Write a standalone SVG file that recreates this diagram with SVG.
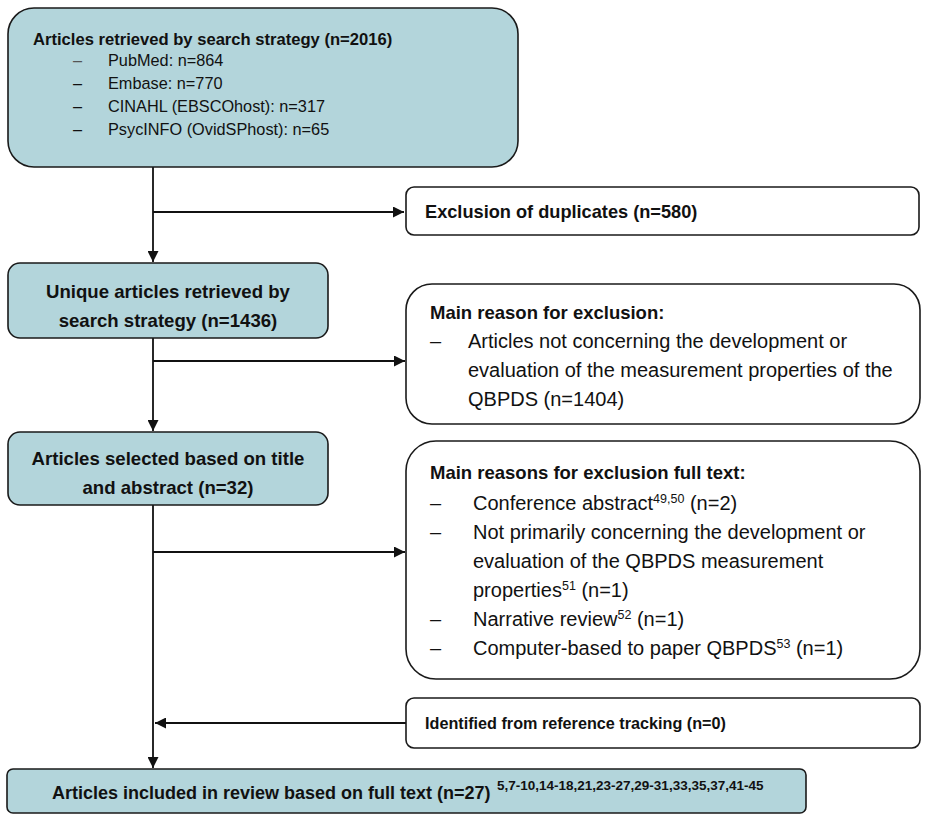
<svg xmlns="http://www.w3.org/2000/svg" width="925" height="816" viewBox="0 0 925 816">
<defs>
<style>
.box{stroke:#1a1a1a;stroke-width:1.6}
.blue{fill:#b3d5db}
.white{fill:#ffffff}
.t{font-family:"Liberation Sans",Arial,sans-serif;fill:#111}
.b{font-weight:bold}
.c{stroke:#111;stroke-width:1.8;fill:none}
</style>
<marker id="ah" viewBox="0 0 10 10" refX="10" refY="5" markerWidth="11" markerHeight="11" markerUnits="userSpaceOnUse" orient="auto">
<path d="M0,0 L10,5 L0,10 z" fill="#111"/>
</marker>
</defs>
<rect width="925" height="816" fill="#ffffff"/>

<g id="connectors">
<line class="c" x1="153" y1="167" x2="153" y2="262" marker-end="url(#ah)"/>
<line class="c" x1="153" y1="212" x2="404" y2="212" marker-end="url(#ah)"/>
<line class="c" x1="153" y1="338" x2="153" y2="431" marker-end="url(#ah)"/>
<line class="c" x1="153" y1="361" x2="405" y2="361" marker-end="url(#ah)"/>
<line class="c" x1="153" y1="505" x2="153" y2="768" marker-end="url(#ah)"/>
<line class="c" x1="153" y1="552" x2="405" y2="552" marker-end="url(#ah)"/>
<line class="c" x1="406" y1="723" x2="155" y2="723" marker-end="url(#ah)"/>
</g>

<g id="search">
<rect class="box blue" x="8" y="8" width="510" height="159" rx="26"/>
<text class="t b" x="33" y="45" font-size="16.6">Articles retrieved by search strategy (n=2016)</text>
<g class="t" font-size="16.3">
<text x="73" y="66" fill="#555">–</text><text x="108" y="66">PubMed: n=864</text>
<text x="73" y="89">–</text><text x="108" y="89">Embase: n=770</text>
<text x="73" y="112">–</text><text x="108" y="112">CINAHL (EBSCOhost): n=317</text>
<text x="73" y="135">–</text><text x="108" y="135">PsycINFO (OvidSPhost): n=65</text>
</g>
</g>

<g id="duplicates">
<rect class="box white" x="406" y="187" width="513" height="48" rx="8"/>
<text class="t b" x="425" y="218" font-size="18.2">Exclusion of duplicates (n=580)</text>
</g>

<g id="unique">
<rect class="box blue" x="8" y="263" width="320" height="75" rx="12"/>
<text class="t b" x="168" y="298" font-size="18.6" text-anchor="middle">Unique articles retrieved by</text>
<text class="t b" x="168" y="327" font-size="18.6" text-anchor="middle">search strategy (n=1436)</text>
</g>

<g id="exclusion1">
<rect class="box white" x="406" y="284" width="514" height="140" rx="26"/>
<text class="t b" x="430" y="319" font-size="18.5">Main reason for exclusion:</text>
<g class="t" font-size="20">
<text x="430" y="348">–</text><text x="468" y="348">Articles not concerning the development or</text>
<text x="468" y="377">evaluation of the measurement properties of the</text>
<text x="468" y="406">QBPDS (n=1404)</text>
</g>
</g>

<g id="selected">
<rect class="box blue" x="8" y="432" width="320" height="73" rx="12"/>
<text class="t b" x="168" y="465" font-size="18.6" text-anchor="middle">Articles selected based on title</text>
<text class="t b" x="168" y="494" font-size="18.6" text-anchor="middle">and abstract (n=32)</text>
</g>

<g id="exclusion2">
<rect class="box white" x="406" y="441" width="514" height="238" rx="30"/>
<text class="t b" x="430" y="479" font-size="18.5">Main reasons for exclusion full text:</text>
<g class="t" font-size="20">
<text x="430" y="510">–</text><text x="473" y="510">Conference abstract<tspan font-size="12.5" dy="-7">49,50</tspan><tspan dy="7"> (n=2)</tspan></text>
<text x="430" y="539">–</text><text x="473" y="539">Not primarily concerning the development or</text>
<text x="473" y="568">evaluation of the QBPDS measurement</text>
<text x="473" y="597">properties<tspan font-size="12.5" dy="-7">51</tspan><tspan dy="7"> (n=1)</tspan></text>
<text x="430" y="626">–</text><text x="473" y="626">Narrative review<tspan font-size="12.5" dy="-7">52</tspan><tspan dy="7"> (n=1)</tspan></text>
<text x="430" y="655">–</text><text x="473" y="655">Computer-based to paper QBPDS<tspan font-size="12.5" dy="-7">53</tspan><tspan dy="7"> (n=1)</tspan></text>
</g>
</g>

<g id="tracking">
<rect class="box white" x="406" y="698" width="514" height="50" rx="8"/>
<text class="t b" x="425" y="729" font-size="16.2">Identified from reference tracking (n=0)</text>
</g>

<g id="included">
<rect class="box blue" x="7" y="769" width="799" height="44" rx="6" stroke-width="3"/>
<text class="t b" x="52" y="799" font-size="18">Articles included in review based on full text (n=27)</text>
<text class="t b" x="497" y="790" font-size="13.5">5,7-10,14-18,21,23-27,29-31,33,35,37,41-45</text>
</g>
</svg>
